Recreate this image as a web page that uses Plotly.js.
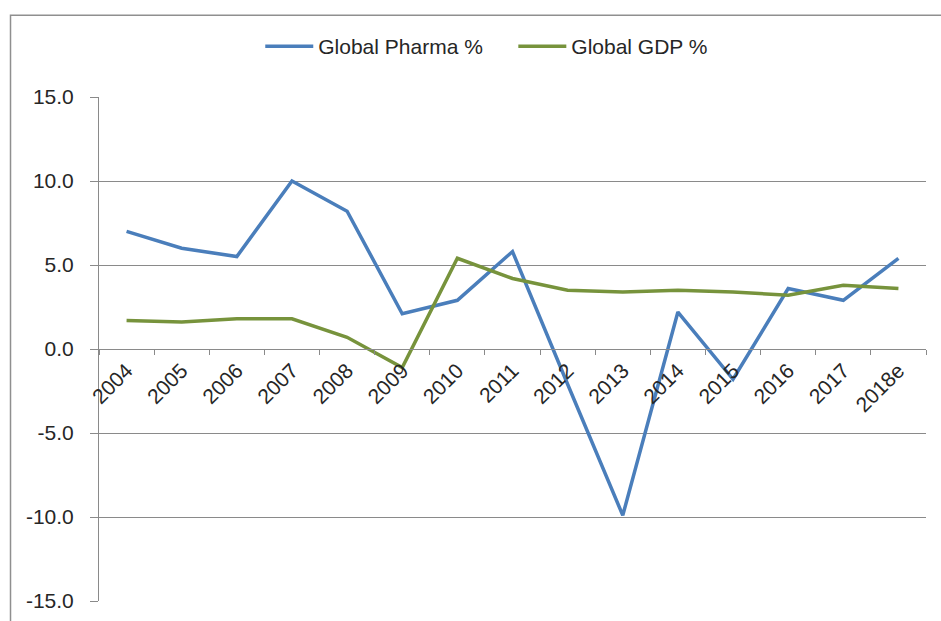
<!DOCTYPE html>
<html>
<head>
<meta charset="utf-8">
<script src="https://cdn.plot.ly/plotly-3.0.1.min.js"></script>
<style>
html,body{margin:0;padding:0;background:#fff;}
#chart{width:941px;height:621px;}
</style>
</head>
<body>
<div id="chart"></div>
<script>
const years = ['2004','2005','2006','2007','2008','2009','2010','2011','2012','2013','2014','2015','2016','2017','2018e'];
const pharma = [7.0, 6.0, 5.5, 10.0, 8.2, 2.1, 2.9, 5.8, -2.1, -9.9, 2.2, -1.8, 3.6, 2.9, 5.4];
const gdp = [1.7, 1.6, 1.8, 1.8, 0.7, -1.1, 5.4, 4.2, 3.5, 3.4, 3.5, 3.4, 3.2, 3.8, 3.6];
const yTicks = [-15, -10, -5, 0, 5, 10, 15];
const yTickLabels = ['-15.0', '-10.0', '-5.0', '0.0', '5.0', '10.0', '15.0'];

const FONT = 'Liberation Sans, Arial, sans-serif';
const TXT = '#262626';
const GRID = '#8a8a8a';

const traces = [
  {x: years, y: pharma, type: 'scatter', mode: 'lines', name: 'Global Pharma %',
   line: {color: '#4A7EBB', width: 3.5}, legend: 'legend'},
  {x: years, y: gdp, type: 'scatter', mode: 'lines', name: 'Global GDP %',
   line: {color: '#77933C', width: 3.5}, legend: 'legend2'}
];

const legendBase = {orientation: 'h', y: 1.1, xanchor: 'left', yanchor: 'middle',
  font: {family: FONT, size: 21, color: TXT}, itemwidth: 48, bgcolor: 'rgba(0,0,0,0)'};

const layout = {
  width: 941, height: 621,
  margin: {l: 99, r: 15, t: 97, b: 20},
  paper_bgcolor: '#fff', plot_bgcolor: '#fff',
  font: {family: FONT, size: 21, color: TXT},
  showlegend: true,
  legend: Object.assign({}, legendBase, {x: 0.195}),
  legend2: Object.assign({}, legendBase, {x: 0.501}),
  xaxis: {type: 'category', anchor: 'free', position: 0.5, range: [-0.5, years.length - 0.5],
          showline: true, linecolor: GRID, linewidth: 1,
          ticks: 'outside', tickson: 'boundaries', ticklen: 5, tickcolor: GRID,
          tickangle: -45, showgrid: false, zeroline: false,
          tickfont: {family: FONT, size: 21, color: TXT}, fixedrange: true},
  yaxis: {range: [-15, 15], tickvals: yTicks, ticktext: yTickLabels,
          showline: true, linecolor: GRID, linewidth: 1,
          ticks: 'outside', ticklen: 8, tickcolor: GRID, ticklabelstandoff: 12,
          showgrid: true, gridcolor: GRID, gridwidth: 1, zeroline: false,
          tickfont: {family: FONT, size: 21, color: TXT}, fixedrange: true},
  shapes: [
    {type: 'rect', xref: 'paper', yref: 'paper', x0: -0.107, x1: 1.03, y0: -0.07, y1: 1.162,
     line: {color: '#8f8f8f', width: 1.5}, fillcolor: 'rgba(0,0,0,0)', layer: 'above'}
  ]
};

Plotly.newPlot('chart', traces, layout, {staticPlot: true});
</script>
</body>
</html>
